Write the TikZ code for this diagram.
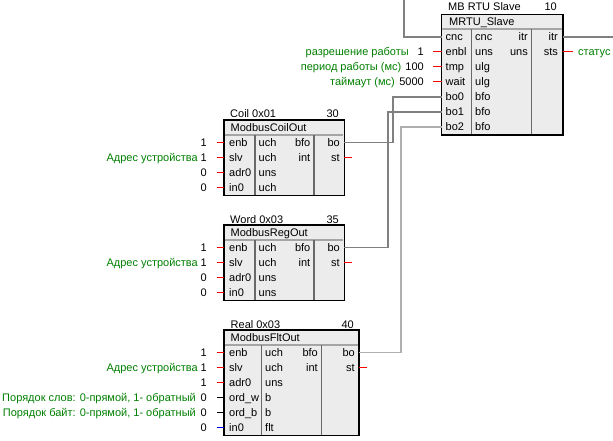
\documentclass[tikz,border=0pt]{standalone}
\usepackage{fontspec}
\setmainfont{Liberation Sans}
\definecolor{lblgreen}{RGB}{0,128,0}
\definecolor{blkfill}{RGB}{236,236,236}
\definecolor{sepgray}{RGB}{105,105,105}
\definecolor{titlegray}{RGB}{165,165,165}
\definecolor{conngray}{RGB}{128,128,128}
\definecolor{connlight}{RGB}{175,175,175}
\definecolor{pinred}{RGB}{255,0,0}
\definecolor{pinblue}{RGB}{0,0,255}
\begin{document}
\begin{tikzpicture}[x=1pt,y=-1pt,
  font=\fontsize{11}{13}\selectfont,
  txt/.style={inner sep=0pt},
  lbl/.style={inner sep=0pt, text=lblgreen},
  blk/.style={fill=blkfill, inner sep=0pt, anchor=north west},
  border/.style={draw=black, line width=1.8pt},
  colsep/.style={draw=sepgray, line width=1.4pt},
  titlesep/.style={draw=titlegray, line width=2pt},
  conn/.style={draw=conngray, line width=1.3pt},
  connl/.style={draw=connlight, line width=1.3pt},
  stubr/.style={draw=pinred, line width=1pt},
  stubk/.style={draw=black, line width=1pt},
  stubb/.style={draw=pinblue, line width=1pt}]
\path[use as bounding box, fill=white] (0,0) rectangle (613,441);

% ================= MRTU_Slave =================
\node[blk, minimum width=121pt, minimum height=120pt] (mrtu) at (441.5,14.5) {};
\draw[titlesep] (442.4,29.5) -- (561.6,29.5);
\draw[colsep] (471.5,29.5) -- (471.5,134.5);
\draw[colsep] (531.5,29.5) -- (531.5,134.5);
\draw[border] (mrtu.north west) rectangle (mrtu.south east);
\node[txt, anchor=base west] (mhead) at (448,11) {MB RTU Slave};
\node[txt, anchor=base east] (mnum) at (557,11) {10};
\node[txt, anchor=base west] (mtitle) at (449,26) {MRTU\_Slave};
\foreach \t [count=\i] in {cnc,enbl,tmp,wait,bo0,bo1,bo2}{
  \node[txt, anchor=base west] (m-a\i) at (445.5,26+15*\i) {\t};
  \coordinate (m-p\i) at (441.5,22+15*\i);
}
\foreach \t [count=\i] in {cnc,uns,ulg,ulg,bfo,bfo,bfo}
  \node[txt, anchor=base west] (m-b\i) at (475,26+15*\i) {\t};
\node[txt, anchor=base east] (m-c1) at (528,41) {itr};
\node[txt, anchor=base east] (m-c2) at (528,56) {uns};
\node[txt, anchor=base east] (m-d1) at (558,41) {itr};
\node[txt, anchor=base east] (m-d2) at (558,56) {sts};
% inputs
\foreach \i in {2,3,4}{
  \coordinate (m-s\i) at (433,22+15*\i);
  \draw[stubr] (m-s\i) -- (m-p\i);
}
\node[lbl, anchor=base east] (m-l2) at (409,56) {разрешение работы};
\node[txt, anchor=base east] (m-v2) at (424,56) {1};
\node[lbl, anchor=base east] (m-l3) at (401.5,71) {период работы (мс)};
\node[txt, anchor=base east] (m-v3) at (424,71) {100};
\node[lbl, anchor=base east] (m-l4) at (395,86) {таймаут (мс)};
\node[txt, anchor=base east] (m-v4) at (424,86) {5000};
% outputs
\coordinate (m-o1) at (562.5,37);
\coordinate (itrend) at (613,37);
\draw[conn] (m-o1) -- (itrend);
\coordinate (m-o2) at (562.5,52);
\coordinate (stsend) at (573,52);
\draw[stubr] (m-o2) -- (stsend);
\node[lbl, anchor=base west] (stslbl) at (578,56) {статус};
\coordinate (cnctop) at (404,0);
\draw[conn] (cnctop) |- (m-p1);

% ================= ModbusCoilOut =================
\node[blk, minimum width=120pt, minimum height=75pt] (coil) at (224,120) {};
\draw[titlesep] (224.9,135) -- (343.1,135);
\draw[colsep] (255,135) -- (255,195);
\draw[colsep] (314,135) -- (314,195);
\draw[border] (coil.north west) rectangle (coil.south east);
\node[txt, anchor=base west] (chead) at (230,118) {Coil 0x01};
\node[txt, anchor=base east] (cnum) at (339,118) {30};
\node[txt, anchor=base west] (ctitle) at (230.5,131.5) {ModbusCoilOut};
\foreach \t/\u/\v [count=\i] in {enb/uch/1,slv/uch/1,adr0/uns/0,in0/uch/0}{
  \node[txt, anchor=base west] (c-a\i) at (229,131.5+15*\i) {\t};
  \node[txt, anchor=base west] (c-b\i) at (258.5,131.5+15*\i) {\u};
  \node[txt, anchor=base east] (c-v\i) at (207,131.5+15*\i) {\v};
  \coordinate (c-p\i) at (224,127.5+15*\i);
  \coordinate (c-s\i) at (217,127.5+15*\i);
  \draw[stubr] (c-s\i) -- (c-p\i);
}
\node[txt, anchor=base east] (c-c1) at (310.5,146.5) {bfo};
\node[txt, anchor=base east] (c-c2) at (310.5,161.5) {int};
\node[txt, anchor=base east] (c-d1) at (340,146.5) {bo};
\node[txt, anchor=base east] (c-d2) at (340,161.5) {st};
\node[lbl, anchor=base east] (c-l2) at (198,161.5) {Адрес устройства};
\coordinate (c-bo) at (344,142.5);
\coordinate (c-st) at (344,157.5);
\coordinate (c-ste) at (352,157.5);
\draw[stubr] (c-st) -- (c-ste);

% ================= ModbusRegOut =================
\node[blk, minimum width=120pt, minimum height=75pt] (word) at (224,225) {};
\draw[titlesep] (224.9,240) -- (343.1,240);
\draw[colsep] (255,240) -- (255,300);
\draw[colsep] (314,240) -- (314,300);
\draw[border] (word.north west) rectangle (word.south east);
\node[txt, anchor=base west] (whead) at (230,223) {Word 0x03};
\node[txt, anchor=base east] (wnum) at (339,223) {35};
\node[txt, anchor=base west] (wtitle) at (230.5,236.5) {ModbusRegOut};
\foreach \t/\u/\v [count=\i] in {enb/uch/1,slv/uch/1,adr0/uns/0,in0/uns/0}{
  \node[txt, anchor=base west] (w-a\i) at (229,236.5+15*\i) {\t};
  \node[txt, anchor=base west] (w-b\i) at (258.5,236.5+15*\i) {\u};
  \node[txt, anchor=base east] (w-v\i) at (207,236.5+15*\i) {\v};
  \coordinate (w-p\i) at (224,232.5+15*\i);
  \coordinate (w-s\i) at (217,232.5+15*\i);
  \draw[stubr] (w-s\i) -- (w-p\i);
}
\node[txt, anchor=base east] (w-c1) at (310.5,251.5) {bfo};
\node[txt, anchor=base east] (w-c2) at (310.5,266.5) {int};
\node[txt, anchor=base east] (w-d1) at (340,251.5) {bo};
\node[txt, anchor=base east] (w-d2) at (340,266.5) {st};
\node[lbl, anchor=base east] (w-l2) at (198,266.5) {Адрес устройства};
\coordinate (w-bo) at (344,247.5);
\coordinate (w-st) at (344,262.5);
\coordinate (w-ste) at (352,262.5);
\draw[stubr] (w-st) -- (w-ste);

% ================= ModbusFltOut =================
\node[blk, minimum width=134.5pt, minimum height=105pt] (real) at (224,330) {};
\draw[titlesep] (224.9,345) -- (357.6,345);
\draw[colsep] (261.5,345) -- (261.5,435);
\draw[colsep] (321.5,345) -- (321.5,435);
\draw[border] (real.north west) rectangle (real.south east);
\node[txt, anchor=base west] (rhead) at (230.5,328) {Real 0x03};
\node[txt, anchor=base east] (rnum) at (354,328) {40};
\node[txt, anchor=base west] (rtitle) at (230.5,341.5) {ModbusFltOut};
\foreach \t/\u/\v/\s [count=\i] in {enb/uch/1/stubr,slv/uch/1/stubr,adr0/uns/1/stubr,ord\_w/b/0/stubk,ord\_b/b/0/stubk,in0/flt/0/stubb}{
  \node[txt, anchor=base west] (r-a\i) at (229,341.5+15*\i) {\t};
  \node[txt, anchor=base west] (r-b\i) at (265,341.5+15*\i) {\u};
  \node[txt, anchor=base east] (r-v\i) at (207,341.5+15*\i) {\v};
  \coordinate (r-p\i) at (224,337.5+15*\i);
  \coordinate (r-s\i) at (217,337.5+15*\i);
  \draw[\s] (r-s\i) -- (r-p\i);
}
\node[txt, anchor=base east] (r-c1) at (318,356.5) {bfo};
\node[txt, anchor=base east] (r-c2) at (318,371.5) {int};
\node[txt, anchor=base east] (r-d1) at (355,356.5) {bo};
\node[txt, anchor=base east] (r-d2) at (355,371.5) {st};
\node[lbl, anchor=base east] (r-l2) at (198,371.5) {Адрес устройства};
\node[lbl, anchor=base east] (r-l4) at (196,401.5) {Порядок слов: 0-прямой, 1- обратный};
\node[lbl, anchor=base east] (r-l5) at (196,416.5) {Порядок байт: 0-прямой, 1- обратный};
\coordinate (r-bo) at (358.5,352.5);
\coordinate (r-st) at (358.5,367.5);
\coordinate (r-ste) at (366.5,367.5);
\draw[stubr] (r-st) -- (r-ste);

% ================= connectors =================
\draw[conn] (c-bo) -- ++(49,0) |- (m-p5);
\draw[conn] (w-bo) -- ++(44,0) |- (m-p6);
\draw[connl] (r-bo) -- ++(42.5,0) |- (m-p7);
\end{tikzpicture}
\end{document}
